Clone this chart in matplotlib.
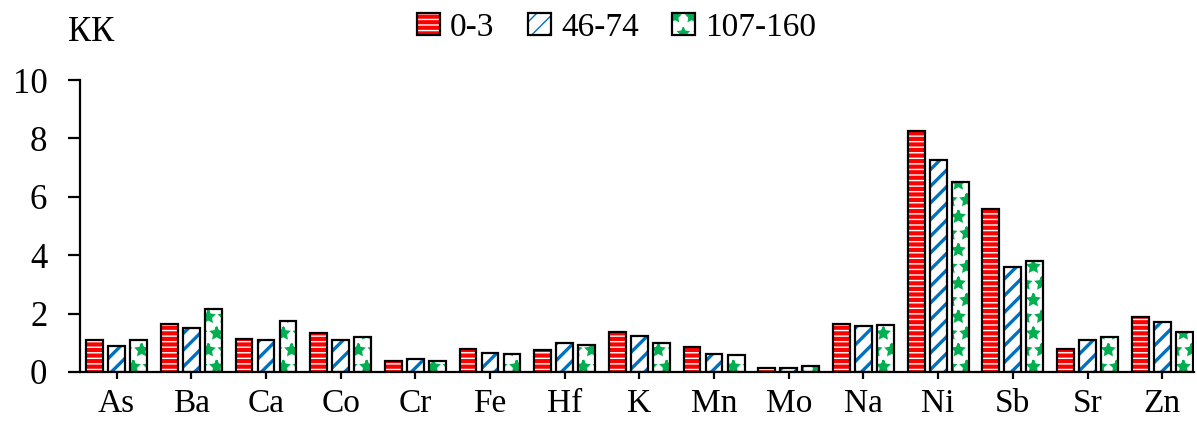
import matplotlib
matplotlib.use("Agg")
import matplotlib.pyplot as plt
import numpy as np
from matplotlib.legend_handler import HandlerTuple

# concentration coefficients (KK) per element for three depth intervals
elements = ["As", "Ba", "Ca", "Co", "Cr", "Fe", "Hf", "K", "Mn", "Mo", "Na", "Ni", "Sb", "Sr", "Zn"]
depth_0_3 = [1.10, 1.64, 1.14, 1.35, 0.37, 0.78, 0.75, 1.37, 0.87, 0.15, 1.63, 8.26, 5.60, 0.78, 1.87]
depth_46_74 = [0.89, 1.52, 1.11, 1.11, 0.46, 0.65, 0.99, 1.25, 0.60, 0.12, 1.56, 7.25, 3.60, 1.11, 1.72]
depth_107_160 = [1.10, 2.16, 1.75, 1.19, 0.37, 0.60, 0.91, 0.99, 0.57, 0.19, 1.60, 6.52, 3.79, 1.19, 1.38]
series_labels = ["0-3", "46-74", "107-160"]

plt.rcParams['font.family'] = ['Liberation Serif', 'DejaVu Serif']
FS = 25

fig = plt.figure(figsize=(11.97, 4.23), dpi=100)
ax = fig.add_axes([0.0668, 0.1206, 0.931, 0.690])

x = np.arange(len(elements))
pitch = 0.295
width = 0.225

# (face, hatch colour, hatch, hatch linewidth)
styles = [
    ("#FF0000", "white", "---", 1.0),
    ("white", "#0070C0", "//", 2.4),
    ("white", "#00B050", "*", 1.5),
]

handles = []
for i, (vals, (face, hcol, hatch, hlw)) in enumerate(zip([depth_0_3, depth_46_74, depth_107_160], styles)):
    pos = x + (i - 1) * pitch
    with plt.rc_context({'hatch.linewidth': hlw}):
        fill = ax.bar(pos, vals, width, color=face, edgecolor=hcol, linewidth=0, hatch=hatch, zorder=2)
    for p in fill:
        if hasattr(p, 'set_hatch_linewidth'):
            p.set_hatch_linewidth(hlw)
    outline = ax.bar(pos, vals, width, facecolor='none', edgecolor='black', linewidth=1.6, zorder=3)
    handles.append((fill[0], outline[0]))

ax.set_xlim(-0.49, 14.43)
ax.set_ylim(0, 10)
ax.set_yticks([0, 2, 4, 6, 8, 10])
ax.set_xticks(x)
ax.set_xticklabels(elements)

for s in ['top', 'right']:
    ax.spines[s].set_visible(False)
for s in ['left', 'bottom']:
    ax.spines[s].set_linewidth(1.6)

ax.tick_params(axis='y', direction='out', length=8.5, width=1.6, labelsize=FS, pad=15)
ax.tick_params(axis='x', direction='out', length=5, width=1.6, labelsize=FS - 1, pad=7)

fig.text(0.076, 0.924, "КК", fontsize=FS, ha='center', va='center')

fig.legend(handles, series_labels, handler_map={tuple: HandlerTuple(ndivide=1)},
           loc='center', bbox_to_anchor=(0.515, 0.935), ncol=3, frameon=False,
           fontsize=FS - 1, handlelength=0.7, handleheight=0.6, handletextpad=0.3,
           columnspacing=1.0, borderpad=0.1)

fig.savefig("out.png", dpi=100)
